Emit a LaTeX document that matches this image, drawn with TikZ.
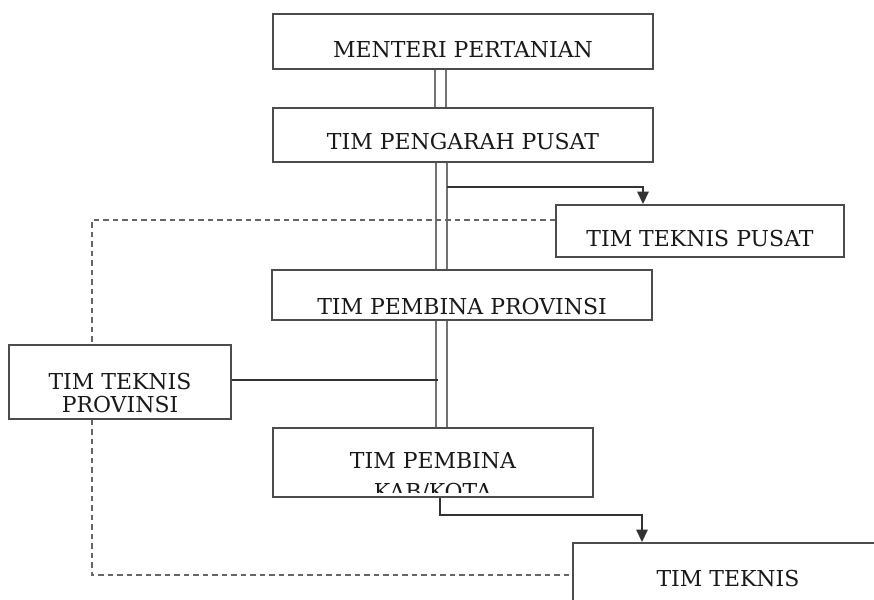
\documentclass[tikz,border=0pt]{standalone}
\usepackage{fontspec}
\setmainfont{DejaVu Serif}
\usetikzlibrary{arrows.meta}

\tikzset{
	kotak/.style={draw=black!70, line width=1.1pt, inner sep=0pt},
	teks/.style={font=\fontsize{12.5}{15}\selectfont, text=black!90, align=center, inner sep=0pt},
	ganda/.style={draw=black!55, line width=1.1pt, double=white, double distance=0.19cm},
	garis/.style={draw=black!80, line width=0.9pt},
	panah/.style={garis, -{Triangle[length=2.5mm,width=2.3mm]}},
	putus/.style={draw=black!60, line width=0.9pt, dash pattern=on 1.1mm off 0.8mm}
}

\begin{document}
\begin{tikzpicture}
		\clip (0,0) rectangle (17.48,-12);
		% kotak-kotak
		\node[kotak, minimum width=7.6cm, minimum height=1.1cm] (menteri) at (9.26,-0.83) {};
		\node[kotak, minimum width=7.6cm, minimum height=1.08cm] (pengarah) at (9.26,-2.70) {};
		\node[kotak, minimum width=5.76cm, minimum height=1.04cm] (tekpusat) at (14.0,-4.62) {};
		\node[kotak, minimum width=7.6cm, minimum height=1.0cm] (provinsi) at (9.24,-5.90) {};
		\node[kotak, minimum width=4.44cm, minimum height=1.48cm] (tekprov) at (2.40,-7.64) {};
		\node[kotak, minimum width=6.4cm, minimum height=1.38cm] (kabkota) at (8.66,-9.25) {};
		\node[kotak, minimum width=6.2cm, minimum height=1.4cm] (tekkab) at (14.56,-11.56) {};

		% tulisan
		\node[teks] (tmenteri) at ([yshift=-0.17cm]menteri.center) {MENTERI PERTANIAN};
		\node[teks] (tpengarah) at ([yshift=-0.13cm]pengarah.center) {TIM PENGARAH PUSAT};
		\node[teks] (ttekpusat) at ([yshift=-0.15cm]tekpusat.center) {TIM TEKNIS PUSAT};
		\node[teks] (tprovinsi) at ([yshift=-0.22cm]provinsi.center) {TIM PEMBINA PROVINSI};
		\node[teks] (ttekkab) at (tekkab.center) {TIM TEKNIS};
		\begin{scope}
			\clip ([yshift=0.14cm]tekprov.south west) rectangle (tekprov.north east);
			\node[teks] (ttekprov) at ([yshift=-0.22cm]tekprov.center) {TIM TEKNIS\\[-1.5pt]PROVINSI};
		\end{scope}
		\begin{scope}
			\clip ([yshift=0.1cm]kabkota.south west) rectangle (kabkota.north east);
			\node[teks] (tkabkota) at ([yshift=-0.29cm]kabkota.center) {TIM PEMBINA\\[3pt]KAB/KOTA};
		\end{scope}

		% garis komando
		\draw[ganda] ([xshift=-0.45cm]menteri.south) -- ([xshift=-0.45cm]menteri.south |- pengarah.north);
		\draw[ganda] ([xshift=-0.43cm]pengarah.south) -- ([xshift=-0.43cm]pengarah.south |- provinsi.north);
		\draw[ganda] ([xshift=-0.41cm]provinsi.south) -- ([xshift=-0.41cm]provinsi.south |- kabkota.north);
		\draw[panah] ([xshift=-0.32cm,yshift=-0.48cm]pengarah.south) -| ([xshift=-1.14cm]tekpusat.north);
		\draw[garis] ([yshift=0.04cm]tekprov.east) -- ++(4.12cm,0);
		\draw[panah] ([xshift=0.14cm]kabkota.south) -- ++(0,-0.34) -| ([xshift=-1.72cm]tekkab.north);

		% garis koordinasi
		\draw[putus] ([yshift=0.22cm]tekpusat.west) -| ([xshift=-0.56cm]tekprov.north);
		\draw[putus] ([xshift=-0.56cm]tekprov.south) |- ([yshift=0.06cm]tekkab.west);
\end{tikzpicture}
\end{document}
